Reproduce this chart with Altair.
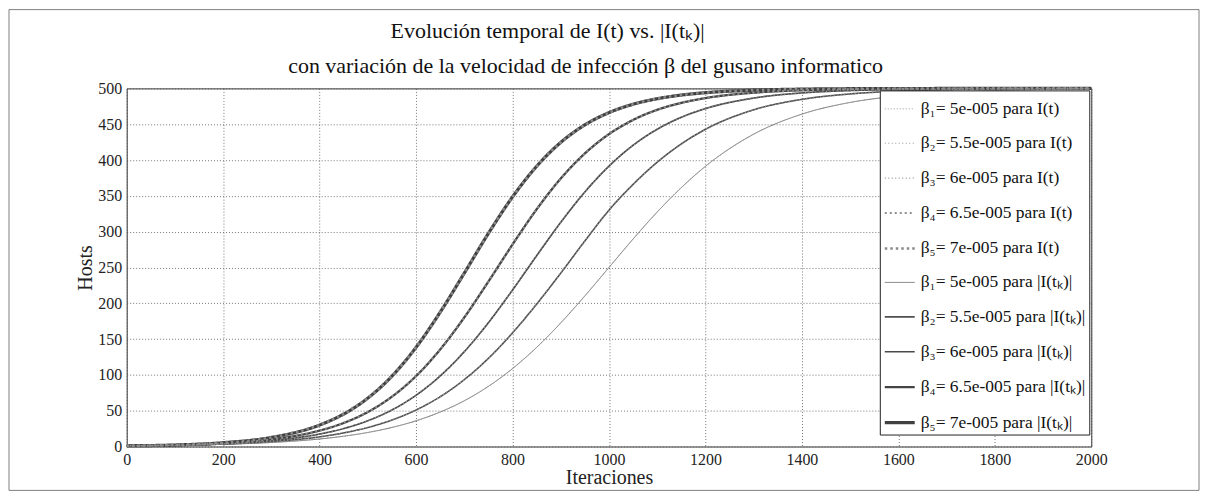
import altair as alt
import pandas as pd

iters = [0, 100, 200, 300, 400, 450, 500, 550, 600, 650, 700, 750, 800, 850,
         900, 950, 1000, 1050, 1100, 1150, 1200, 1300, 1400, 1500, 1600, 1800, 2000]

b1 = [1.0, 1.6, 3.0, 5.6, 10.5, 14.4, 19.6, 26.6, 35.9, 48.1, 63.9, 84.0, 108.8, 138.4,
      172.6, 210.3, 250.0, 289.7, 327.4, 361.5, 391.2, 436.1, 464.1, 480.4, 489.5, 497.0, 499.2]
b2 = [1.0, 1.7, 3.4, 6.8, 13.5, 19.0, 26.6, 37.0, 51.0, 69.5, 93.4, 123.1, 158.6, 198.8,
      242.1, 287.0, 330.0, 366.0, 397.0, 422.5, 442.9, 470.1, 484.7, 492.3, 496.2, 499.1, 499.8]
b3 = [1.0, 1.8, 3.8, 8.2, 17.4, 25.1, 36.0, 51.1, 71.6, 98.5, 132.4, 172.9, 218.5, 266.4,
      313.0, 355.4, 391.5, 420.6, 443.0, 459.7, 471.8, 486.5, 493.7, 497.0, 498.6, 499.7, 499.9]
b4 = [1.0, 1.9, 4.4, 9.9, 22.2, 32.9, 48.2, 69.6, 98.4, 135.5, 180.2, 230.3, 282.1, 331.2,
      374.2, 409.2, 436.2, 456.0, 470.1, 479.8, 486.5, 494.0, 497.4, 498.9, 499.5, 499.9, 500.0]
b5 = [1.0, 2.1, 5.3, 12.7, 30.0, 45.4, 67.6, 98.3, 138.5, 187.5, 242.1, 297.6, 348.5, 391.3,
      424.6, 449.1, 466.2, 477.9, 485.6, 490.7, 494.0, 497.5, 499.0, 499.6, 499.8, 500.0, 500.0]

labels_it = ["β₁= 5e-005 para I(t)", "β₂= 5.5e-005 para I(t)", "β₃= 6e-005 para I(t)",
             "β₄= 6.5e-005 para I(t)", "β₅= 7e-005 para I(t)"]
labels_tk = ["β₁= 5e-005 para |I(tₖ)|", "β₂= 5.5e-005 para |I(tₖ)|", "β₃= 6e-005 para |I(tₖ)|",
             "β₄= 6.5e-005 para |I(tₖ)|", "β₅= 7e-005 para |I(tₖ)|"]

title_lines = ["Evolución temporal de I(t) vs. |I(tₖ)|",
               "con variación de la velocidad de infección β del gusano informatico"]

series = [b1, b2, b3, b4, b5]

rows_tk = []
rows_it = []
for i, vals in enumerate(series):
    for t, v in zip(iters, vals):
        rows_tk.append({"iter": t, "hosts": v, "serie": labels_tk[i]})
        rows_it.append({"iter": t, "hosts": v, "serie": labels_it[i]})
df_tk = pd.DataFrame(rows_tk)
df_it = pd.DataFrame(rows_it)

domain = labels_it + labels_tk
color_range = ["#9a9a9a", "#959595", "#929292", "#8e8e8e", "#8a8a8a",
               "#777777", "#505050", "#4a4a4a", "#444444", "#404040"]
dash_range = [[1, 2], [1, 2.5], [1, 2.5], [2, 3], [2.5, 3],
              [1, 0], [1, 0], [1, 0], [1, 0], [1, 0]]
width_range = [1, 1.2, 1.3, 2, 2.6, 1, 1.6, 1.7, 2.3, 3.2]

FONT = "Liberation Serif"

enc = dict(
    x=alt.X("iter:Q", title="Iteraciones",
            scale=alt.Scale(domain=[0, 2000], nice=False),
            axis=alt.Axis(values=list(range(0, 2001, 200)), format="d", labelFlush=False)),
    y=alt.Y("hosts:Q", title="Hosts",
            scale=alt.Scale(domain=[0, 500], nice=False),
            axis=alt.Axis(values=list(range(0, 501, 50)), format="d", labelFlush=False)),
    color=alt.Color("serie:N", scale=alt.Scale(domain=domain, range=color_range),
                    legend=alt.Legend(title=None)),
    strokeDash=alt.StrokeDash("serie:N", scale=alt.Scale(domain=domain, range=dash_range),
                              legend=alt.Legend(title=None)),
    strokeWidth=alt.StrokeWidth("serie:N", scale=alt.Scale(type="ordinal", domain=domain, range=width_range),
                                legend=alt.Legend(title=None)),
)

solid = alt.Chart(df_tk).mark_line(interpolate="monotone").encode(**enc)
dotted = alt.Chart(df_it).mark_line(interpolate="monotone").encode(**enc)

frame = alt.Chart(pd.DataFrame({"a": [0]})).mark_rect(
    filled=False, stroke="#808080", strokeWidth=1
).encode(
    x=alt.value(-118), x2=alt.value(1075),
    y=alt.value(-79), y2=alt.value(403)
)

title1 = alt.Chart(pd.DataFrame({"t": [title_lines[0]]})).mark_text(
    font=FONT, fontSize=22, color="#111", align="center", baseline="alphabetic"
).encode(text="t:N", x=alt.value(422), y=alt.value(-51))

title2 = alt.Chart(pd.DataFrame({"t": [title_lines[1]]})).mark_text(
    font=FONT, fontSize=22, color="#111", align="center", baseline="alphabetic"
).encode(text="t:N", x=alt.value(460), y=alt.value(-15))

chart = alt.layer(frame, title1, title2, solid, dotted).properties(
    width=967,
    height=359,
    autosize=alt.AutoSizeParams(type="none"),
    padding={"left": 119, "top": 80, "right": 109, "bottom": 45},
).configure_view(
    stroke="#333", strokeWidth=1
).configure_axis(
    labelFont=FONT, labelFontSize=16, labelColor="#222",
    titleFont=FONT, titleFontSize=20, titleFontWeight="normal", titleColor="#222",
    grid=True, gridColor="#555", gridDash=[1, 2], gridWidth=0.8, gridOpacity=1,
    domain=False, ticks=False, labelPadding=5,
).configure_axisX(
    titlePadding=0
).configure_axisY(
    titlePadding=2
).configure_legend(
    orient="top-right", offset=2, fillColor="white", strokeColor="#222",
    padding=3, labelFont=FONT, labelFontSize=17.5, labelColor="#111",
    symbolType="stroke", symbolSize=900, rowPadding=10, labelLimit=400,
    labelOffset=4,
)

chart.save("out.html", embed_options={"renderer": "svg", "actions": False})
